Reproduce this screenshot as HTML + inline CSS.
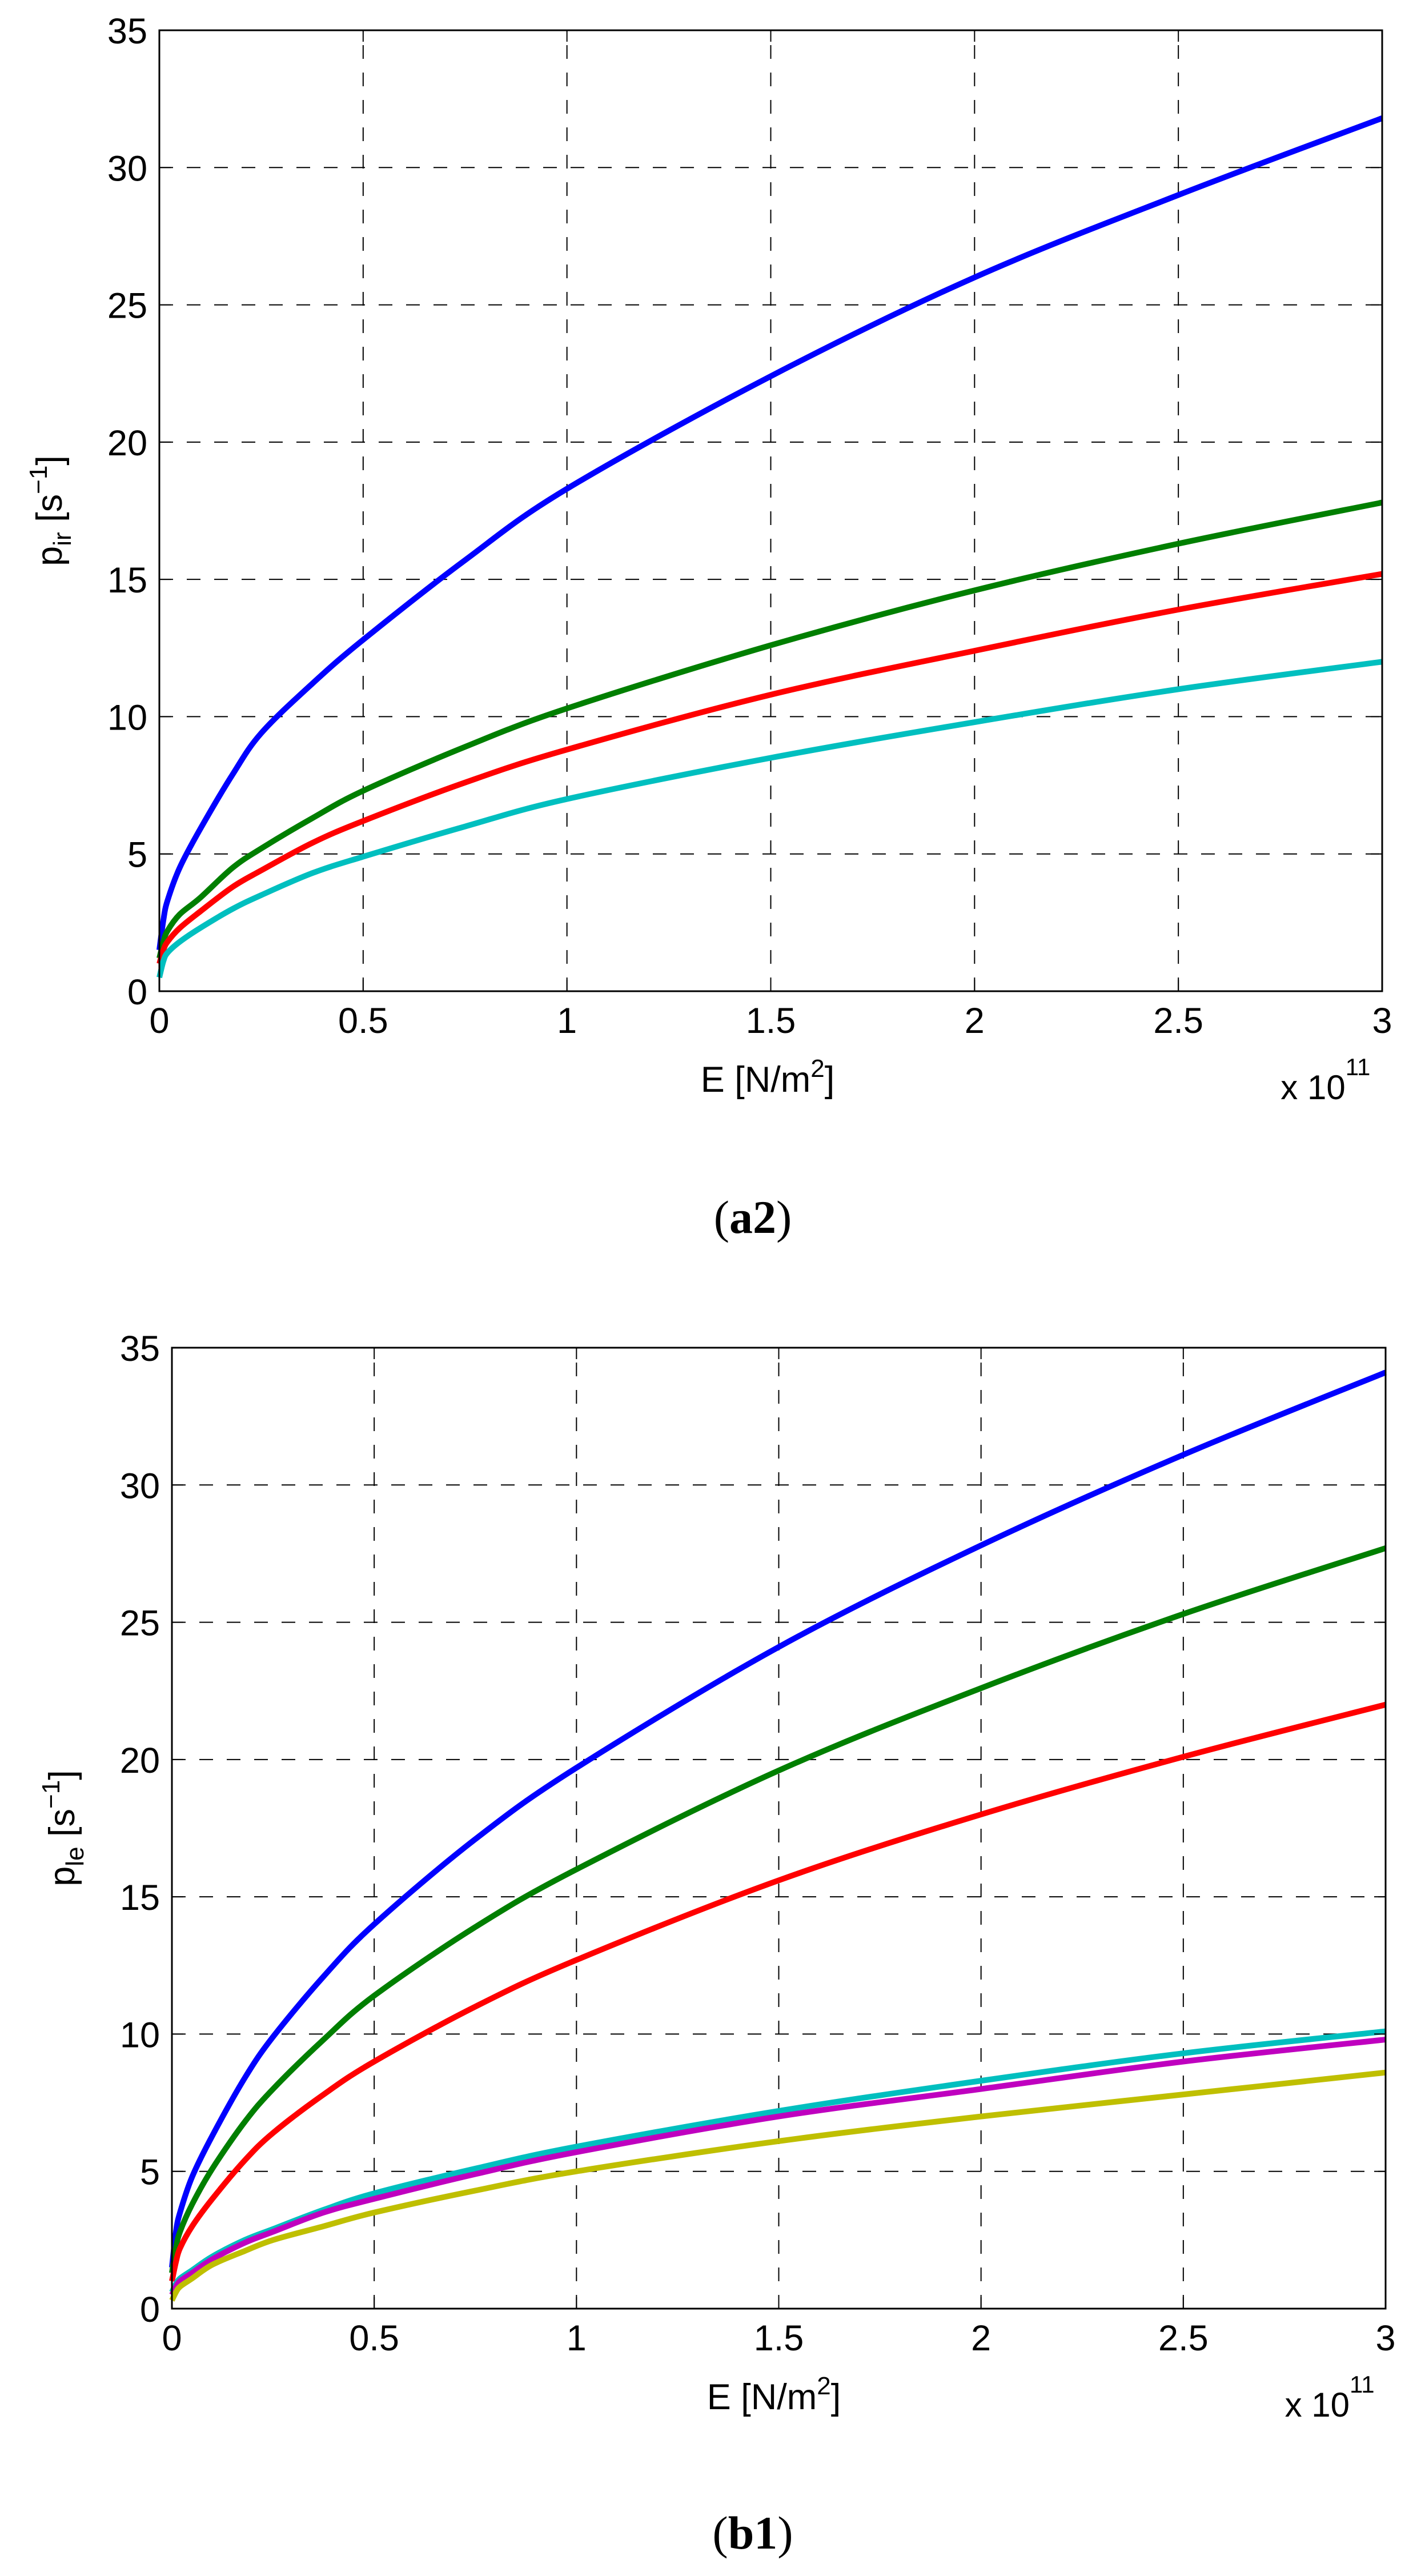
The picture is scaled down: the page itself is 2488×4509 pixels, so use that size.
<!DOCTYPE html>
<html><head><meta charset="utf-8"><style>
html,body{margin:0;padding:0;background:#fff;}
svg{display:block;}
text{font-family:"Liberation Sans",Arial,sans-serif;fill:#000;}
.cap{font-family:"Liberation Serif","Times New Roman",serif;}
</style></head><body>
<svg id="fig" width="2488" height="4509" viewBox="0 0 2488 4509" xmlns="http://www.w3.org/2000/svg"></svg>
<script>
const xValues = [0, 0.01, 0.02, 0.05, 0.1, 0.18, 0.25, 0.375, 0.5, 0.75, 1, 1.5, 2, 2.5, 3];
const xTickLabels = ["0","0.5","1","1.5","2","2.5","3"];
const yTickLabels = ["0","5","10","15","20","25","30","35"];
const topBlue  = [1.5, 2.6, 3.3, 4.5, 5.9, 7.9, 9.4, 11.2, 12.8, 15.7, 18.3, 22.4, 26.0, 29.0, 31.8];
const topGreen = [1.2, 1.8, 2.2, 2.8, 3.4, 4.5, 5.2, 6.3, 7.3, 8.9, 10.3, 12.6, 14.6, 16.3, 17.8];
const topRed   = [1.0, 1.5, 1.8, 2.3, 2.9, 3.8, 4.4, 5.4, 6.2, 7.6, 8.8, 10.8, 12.4, 13.9, 15.2];
const topCyan  = [0.5, 1.1, 1.4, 1.8, 2.3, 3.0, 3.5, 4.3, 4.9, 6.0, 7.0, 8.5, 9.8, 11.0, 12.0];
const botBlue    = [1.5, 2.8, 3.5, 4.8, 6.3, 8.4, 9.9, 12.1, 14.0, 17.1, 19.7, 24.1, 27.8, 31.1, 34.1];
const botGreen   = [1.3, 2.2, 2.8, 3.8, 5.1, 6.8, 8.0, 9.8, 11.4, 13.9, 16.0, 19.6, 22.6, 25.3, 27.7];
const botRed     = [1.0, 1.7, 2.2, 3.0, 4.0, 5.4, 6.4, 7.8, 9.0, 11.0, 12.7, 15.6, 18.0, 20.1, 22.0];
const botCyan    = [0.6, 0.9, 1.1, 1.4, 1.9, 2.5, 2.9, 3.6, 4.2, 5.1, 5.9, 7.2, 8.3, 9.3, 10.1];
const botMagenta = [0.5, 0.8, 1.0, 1.3, 1.8, 2.4, 2.8, 3.5, 4.0, 4.9, 5.7, 7.0, 8.0, 9.0, 9.8];
const botYellow  = [0.3, 0.6, 0.8, 1.1, 1.6, 2.1, 2.5, 3.0, 3.5, 4.3, 5.0, 6.1, 7.0, 7.8, 8.6];

const NS = "http://www.w3.org/2000/svg";
const svg = document.getElementById('fig');
function mk(tag, attrs, parent){
  const e = document.createElementNS(NS, tag);
  for (const k in attrs) e.setAttribute(k, attrs[k]);
  (parent||svg).appendChild(e);
  return e;
}

function drawPanel(cfg){
  const g = mk('g', {});
  
  
  const L=cfg.left, R=cfg.right, T=cfg.top, B=cfg.bottom;
  const xs = v => L + (v/3)*(R-L);
  const ys = v => B - (v/35)*(B-T);
  const grid = mk('g', {stroke:'#000','stroke-width':2,'stroke-dasharray':'24 24',fill:'none'}, g);
  
  
  xTickLabels.forEach(t=>{
    const v = parseFloat(t);
    if (v>0 && v<3) mk('line',{x1:xs(v),y1:B,x2:xs(v),y2:T},grid);
  });
  yTickLabels.forEach(t=>{
    const v = parseFloat(t);
    if (v>0 && v<35) mk('line',{x1:L,y1:ys(v),x2:R,y2:ys(v)},grid);
  });
  cfg.series.forEach(s=>{
    const pts = xValues.map((x,i)=>[xs(x), ys(s.data[i])]);
    let d = 'M'+pts[0][0]+','+pts[0][1];
    for (let i=0;i<pts.length-1;i++){
      const p0=pts[Math.max(0,i-1)], p1=pts[i], p2=pts[i+1], p3=pts[Math.min(pts.length-1,i+2)];
      const c1x=p1[0]+(p2[0]-p0[0])/6, c1y=p1[1]+(p2[1]-p0[1])/6;
      const c2x=p2[0]-(p3[0]-p1[0])/6, c2y=p2[1]-(p3[1]-p1[1])/6;
      d += ' C'+c1x+','+c1y+' '+c2x+','+c2y+' '+p2[0]+','+p2[1];
    }
    const p = mk('path',{d:d,fill:'none',stroke:s.color,'stroke-width':10,'stroke-linejoin':'round'},g);
    
    
  });
  const box = mk('rect',{x:L,y:T,width:R-L,height:B-T,fill:'none',stroke:'#000','stroke-width':3},g);
  
  
  xTickLabels.forEach(t=>{
    const v=parseFloat(t);
    mk('line',{x1:xs(v),y1:B,x2:xs(v),y2:B-20,stroke:'#000','stroke-width':2},g);
    mk('line',{x1:xs(v),y1:T,x2:xs(v),y2:T+20,stroke:'#000','stroke-width':2},g);
    const tx = mk('text',{x:xs(v),y:B+73,'font-size':63,'text-anchor':'middle'},g);
    tx.textContent=t;
    
    
  });
  yTickLabels.forEach(t=>{
    const v=parseFloat(t);
    mk('line',{x1:L,y1:ys(v),x2:L+20,y2:ys(v),stroke:'#000','stroke-width':2},g);
    mk('line',{x1:R,y1:ys(v),x2:R-20,y2:ys(v),stroke:'#000','stroke-width':2},g);
    const tx = mk('text',{x:L-21,y:ys(v)+23,'font-size':63,'text-anchor':'end'},g);
    tx.textContent=t;
    
    
  });
  const xt = mk('text',{x:cfg.xTitleX,y:B+176,'font-size':63,'text-anchor':'middle'},g);
  xt.innerHTML = 'E [N/m<tspan dy="-26" font-size="44">2</tspan><tspan dy="26">]</tspan>';
  
  
  const ex = mk('text',{x:L+(R-L)*0.917,y:B+189,'font-size':60},g);
  ex.innerHTML = 'x 10<tspan dy="-42" font-size="42">11</tspan>';
  
  
  const cy=(T+B)/2;
  const yt = mk('text',{x:0,y:0,'font-size':63,'text-anchor':'middle',transform:'translate('+cfg.yTitleX+','+cy+') rotate(-90)'},g);
  yt.innerHTML = 'p<tspan dy="16" font-size="44">'+cfg.sub+'</tspan><tspan dy="-16"> [s</tspan><tspan dy="-26" font-size="44">−1</tspan><tspan dy="26">]</tspan>';
  
  
  const cp = mk('text',{x:1318,y:B+cfg.capOff,'font-size':82,'text-anchor':'middle','class':'cap'},g);
  cp.innerHTML = '(<tspan font-weight="bold">'+cfg.cap+'</tspan>)';
  
  
}

drawPanel({name:'panel-a2', left:279, right:2420, top:53, bottom:1735, xTitleX:1344, yTitleX:108, sub:'ir', cap:'a2', capOff:423,
  series:[{name:'series-blue',color:'#0000ff',data:topBlue},{name:'series-green',color:'#007f00',data:topGreen},
          {name:'series-red',color:'#ff0000',data:topRed},{name:'series-cyan',color:'#00bfbf',data:topCyan}]});
drawPanel({name:'panel-b1', left:301, right:2426, top:2359, bottom:4041, xTitleX:1355, yTitleX:130, sub:'le', cap:'b1', capOff:420,
  series:[{name:'series-blue',color:'#0000ff',data:botBlue},{name:'series-green',color:'#007f00',data:botGreen},
          {name:'series-red',color:'#ff0000',data:botRed},{name:'series-cyan',color:'#00bfbf',data:botCyan},
          {name:'series-magenta',color:'#bf00bf',data:botMagenta},{name:'series-yellow',color:'#bfbf00',data:botYellow}]});
</script>
</body></html>
